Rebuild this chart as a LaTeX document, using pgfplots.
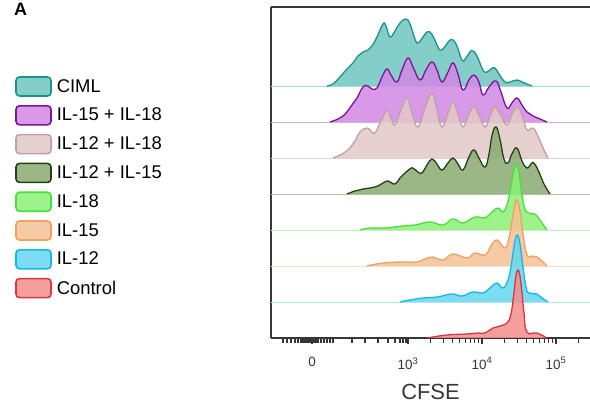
\documentclass[border=0pt]{standalone}
\usepackage{fontspec}
\setmainfont{Liberation Sans}
\usepackage{pgfplots}
\usepackage{pgfplotstable}
\pgfplotsset{compat=1.18}

\definecolor{axisgray}{RGB}{55,55,55}
\definecolor{cimlFill}{RGB}{110,198,192}
\definecolor{cimlLine}{RGB}{25,148,138}
\definecolor{ilAFill}{RGB}{208,135,228}
\definecolor{ilALine}{RGB}{125,20,155}
\definecolor{ilBFill}{RGB}{226,200,200}
\definecolor{ilBLine}{RGB}{192,162,162}
\definecolor{ilCFill}{RGB}{138,170,112}
\definecolor{ilCLine}{RGB}{35,65,25}
\definecolor{il18Fill}{RGB}{140,240,118}
\definecolor{il18Line}{RGB}{70,225,60}
\definecolor{il15Fill}{RGB}{245,193,148}
\definecolor{il15Line}{RGB}{240,160,95}
\definecolor{il12Fill}{RGB}{100,214,240}
\definecolor{il12Line}{RGB}{20,185,225}
\definecolor{ctrlFill}{RGB}{245,140,140}
\definecolor{ctrlLine}{RGB}{215,55,65}

% x: display position in decades (biexponential), y: event count (px scale)
\pgfplotstableread{
1.905 0
1.986 2
2.081 9
2.176 17
2.257 23
2.324 30
2.392 34
2.459 36
2.514 40
2.581 49
2.662 62
2.703 60
2.757 49
2.824 55
2.892 63
2.973 67
3.027 62
3.081 50
3.122 43
3.176 46
3.243 53
3.297 54
3.351 48
3.392 41
3.432 36
3.486 38
3.554 45
3.608 46
3.662 40
3.730 26
3.784 28
3.838 34
3.878 35
3.932 30
4.014 16
4.068 14
4.122 17
4.176 18
4.230 12
4.311 4
4.378 4
4.473 6
4.541 4
4.608 2
4.676 0
}\ciml

\pgfplotstableread{
1.946 0
2.081 4
2.176 10
2.243 17
2.311 24
2.392 35
2.459 36
2.514 33
2.581 34
2.649 45
2.716 53
2.770 47
2.851 40
2.919 52
3.000 64
3.068 55
3.162 42
3.243 52
3.324 60
3.392 52
3.459 40
3.541 50
3.608 59
3.676 48
3.743 32
3.824 42
3.892 47
3.959 40
4.014 27
4.095 35
4.189 41
4.257 30
4.338 14
4.405 19
4.473 24
4.541 17
4.608 10
4.689 6
4.784 3
4.878 0
}\ilfifteeneighteen

\pgfplotstableread{
1.986 0
2.108 4
2.216 10
2.284 17
2.351 26
2.446 30
2.500 27
2.554 25
2.635 37
2.716 47
2.770 40
2.824 33
2.905 48
2.986 60
3.054 45
3.135 31
3.230 50
3.324 65
3.392 48
3.459 31
3.541 45
3.608 56
3.676 44
3.743 31
3.824 44
3.892 51
3.959 43
4.041 31
4.108 42
4.176 51
4.243 44
4.338 33
4.405 44
4.486 51
4.554 40
4.608 28
4.689 30
4.743 24
4.797 15
4.851 6
4.892 0
}\iltwelveeighteen

\pgfplotstableread{
2.176 0
2.284 3
2.392 5
2.486 6
2.595 8
2.662 11
2.730 13
2.824 10
2.892 16
2.959 21
3.027 25
3.068 26
3.135 22
3.189 21
3.257 29
3.324 35
3.392 30
3.459 24
3.541 31
3.608 36
3.676 30
3.743 24
3.824 37
3.892 44
3.959 36
4.041 27
4.095 40
4.135 58
4.189 67
4.243 55
4.297 35
4.351 31
4.405 40
4.473 46
4.541 33
4.608 26
4.662 30
4.703 31
4.770 22
4.838 10
4.919 0
}\iltwelvefifteen

\pgfplotstableread{
2.351 0
2.486 2
2.689 2
2.932 4
3.095 5
3.297 8
3.473 5
3.608 11
3.743 7
3.905 13
4.041 12
4.135 18
4.216 22
4.284 18
4.338 25
4.378 38
4.419 55
4.459 65
4.500 58
4.527 42
4.568 24
4.608 18
4.662 16
4.716 16
4.784 10
4.878 0
}\ileighteen

\pgfplotstableread{
2.446 0
2.662 3
2.932 4
3.122 4
3.230 7
3.338 9
3.473 6
3.608 12
3.797 8
3.905 13
4.041 11
4.122 20
4.203 26
4.311 18
4.365 28
4.405 45
4.446 62
4.473 66
4.514 55
4.554 33
4.608 11
4.676 10
4.743 9
4.811 5
4.878 0
}\ilfifteen

\pgfplotstableread{
2.892 0
3.027 2
3.203 4
3.392 5
3.595 8
3.730 6
3.878 10
4.014 9
4.122 15
4.203 19
4.284 14
4.351 22
4.392 35
4.432 55
4.473 67
4.514 58
4.554 35
4.595 15
4.635 9
4.743 8
4.811 4
4.892 0
}\iltwelve

\pgfplotstableread{
3.257 0
3.527 3
3.797 4
3.946 5
4.041 5
4.149 10
4.243 12
4.338 15
4.392 24
4.432 45
4.459 62
4.486 68
4.514 62
4.541 45
4.568 25
4.608 6
4.743 5
4.878 0
}\control

\begin{document}
\begin{tikzpicture}
\useasboundingbox (0,0) rectangle (590bp,409bp);
\node[anchor=base west, inner sep=0pt, font=\fontsize{18}{20}\selectfont\bfseries] at (14bp,393bp) {A};
\begin{axis}[
  at={(271bp,71bp)}, anchor=south west,
  scale only axis, width=319bp, height=331bp,
  xmin=1.149, xmax=5.46, ymin=0, ymax=331,
  axis lines*=left,
  axis line style={line width=1.3bp, color=axisgray},
  ytick=\empty,
  xtick={1.703,3,4,5},
  xticklabels={0,10\textsuperscript{3},10\textsuperscript{4},10\textsuperscript{5}},
  minor xtick={1.311,1.365,1.419,1.473,1.514,1.554,1.581,1.608,1.635,1.662,1.676,1.689,1.716,1.730,1.757,1.784,1.824,1.865,1.905,1.946,1.986,
    2.243,2.419,2.595,2.730,2.824,2.892,2.932,2.973,
    3.301,3.477,3.602,3.699,3.778,3.845,3.903,3.954,
    4.301,4.477,4.602,4.699,4.778,4.845,4.903,4.954,5.301},
  tick align=outside,
  major tick length=6bp, minor tick length=4.5bp,
  every tick/.style={line width=1.3bp, color=axisgray},
  xticklabel style={font=\fontsize{13.5}{15}\selectfont, text=axisgray, yshift=-10bp},
  xlabel={CFSE},
  xlabel style={font=\fontsize{22}{25}\selectfont, text=axisgray, yshift=-8bp},
  legend image code/.code={\draw[rounded corners=3.5bp, line width=1.6bp] (0bp,-9.5bp) rectangle (35bp,9.5bp);},
  legend style={at={(axis description cs:-0.8025,0.7915)}, anchor=north west,
    draw=none, fill=none, inner sep=0pt, row sep=8.2bp,
    font=\fontsize{18.5}{21}\selectfont,
    /tikz/every odd column/.append style={column sep=3bp}},
  legend cell align=left,
  every axis plot/.append style={smooth, tension=0.75, line width=1.3bp, fill opacity=0.85},
]
\draw[line width=1.3bp, color=axisgray] (rel axis cs:0,1) -- (rel axis cs:1,1);

\addplot[forget plot, sharp plot, color=cimlLine!35, line width=0.7bp] coordinates {(1.149,252) (5.46,252)};
\addplot[draw=cimlLine, fill=cimlFill] table[x index=0, y expr=\thisrowno{1}+252] {\ciml};
\addlegendentry{CIML}

\addplot[forget plot, sharp plot, color=ilALine!35, line width=0.7bp] coordinates {(1.149,216) (5.46,216)};
\addplot[draw=ilALine, fill=ilAFill] table[x index=0, y expr=\thisrowno{1}+216] {\ilfifteeneighteen};
\addlegendentry{IL-15 + IL-18}

\addplot[forget plot, sharp plot, color=ilBLine!50, line width=0.7bp] coordinates {(1.149,180) (5.46,180)};
\addplot[draw=ilBLine, fill=ilBFill] table[x index=0, y expr=\thisrowno{1}+180] {\iltwelveeighteen};
\addlegendentry{IL-12 + IL-18}

\addplot[forget plot, sharp plot, color=ilCLine!35, line width=0.7bp] coordinates {(1.149,144) (5.46,144)};
\addplot[draw=ilCLine, fill=ilCFill] table[x index=0, y expr=\thisrowno{1}+144] {\iltwelvefifteen};
\addlegendentry{IL-12 + IL-15}

\addplot[forget plot, sharp plot, color=il18Line!35, line width=0.7bp] coordinates {(1.149,108) (5.46,108)};
\addplot[draw=il18Line, fill=il18Fill] table[x index=0, y expr=\thisrowno{1}+108] {\ileighteen};
\addlegendentry{IL-18}

\addplot[forget plot, sharp plot, color=il15Line!35, line width=0.7bp] coordinates {(1.149,72) (5.46,72)};
\addplot[draw=il15Line, fill=il15Fill] table[x index=0, y expr=\thisrowno{1}+72] {\ilfifteen};
\addlegendentry{IL-15}

\addplot[forget plot, sharp plot, color=il12Line!35, line width=0.7bp] coordinates {(1.149,36) (5.46,36)};
\addplot[draw=il12Line, fill=il12Fill] table[x index=0, y expr=\thisrowno{1}+36] {\iltwelve};
\addlegendentry{IL-12}

\addplot[draw=ctrlLine, fill=ctrlFill] table[x index=0, y expr=\thisrowno{1}] {\control};
\addlegendentry{Control}
\end{axis}
\end{tikzpicture}
\end{document}
